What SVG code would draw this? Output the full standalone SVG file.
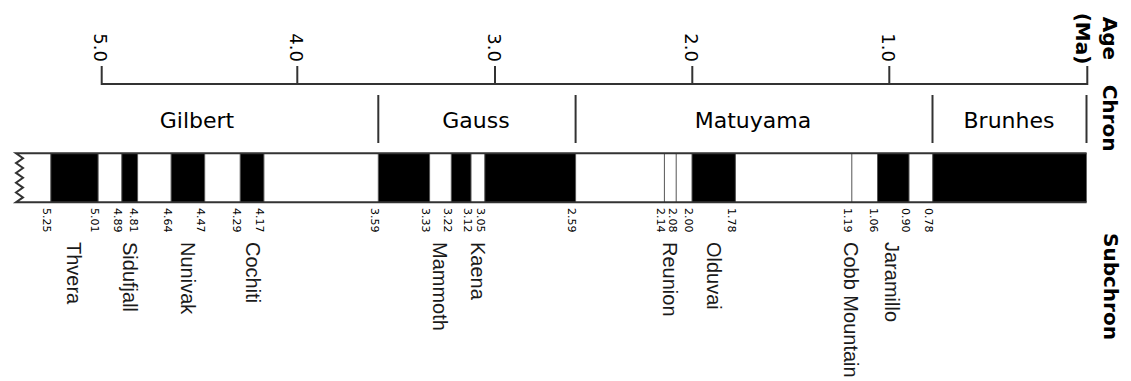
<svg xmlns="http://www.w3.org/2000/svg" width="1131" height="381" viewBox="0 0 1131 381">
<style>
  .ax { stroke:#333; stroke-width:2; fill:none; }
  .tick { font-family:"DejaVu Sans",sans-serif; font-size:18px; fill:#000; text-anchor:end; }
  .chron { font-family:"DejaVu Sans",sans-serif; font-size:22px; fill:#000; text-anchor:middle; }
  .side { font-family:"DejaVu Sans",sans-serif; font-size:20px; font-weight:bold; fill:#000; text-anchor:middle; }
  .sep { stroke:#333; stroke-width:2; }
  .blk { fill:#000; }
  .bnd { stroke:#555; stroke-width:1; }
  .edge { stroke:#333; stroke-width:2; fill:none; stroke-linejoin:miter; }
  .num { font-family:"DejaVu Sans",sans-serif; font-size:11px; fill:#000; }
  .sub { font-family:"Liberation Sans",Arial,sans-serif; font-size:20px; fill:#1a1a1a; }
</style>

<g id="age-axis">
  <path class="ax" d="M101.7,66 V84 H1087.3 V66 M297.3,66 V84 M495,66 V84 M692.3,66 V84 M889.3,66 V84"/>
  <text class="tick" transform="translate(94.2,62) rotate(90)">5.0</text>
  <text class="tick" transform="translate(289.8,62) rotate(90)">4.0</text>
  <text class="tick" transform="translate(487.5,62) rotate(90)">3.0</text>
  <text class="tick" transform="translate(684.8,62) rotate(90)">2.0</text>
  <text class="tick" transform="translate(881.8,62) rotate(90)">1.0</text>
</g>

<g id="side-labels">
  <text class="side" transform="translate(1102.5,38.5) rotate(90)">Age</text>
  <text class="side" transform="translate(1076,38.5) rotate(90)">(Ma)</text>
  <text class="side" transform="translate(1102.5,118) rotate(90)">Chron</text>
  <text class="side" transform="translate(1104,286.5) rotate(90)">Subchron</text>
</g>

<g id="chrons">
  <line class="sep" x1="378.3" y1="95" x2="378.3" y2="143"/>
  <line class="sep" x1="575.6" y1="95" x2="575.6" y2="143"/>
  <line class="sep" x1="932.5" y1="95" x2="932.5" y2="143"/>
  <line class="sep" x1="1086.5" y1="95" x2="1086.5" y2="143"/>
  <text class="chron" x="197" y="128">Gilbert</text>
  <text class="chron" x="476" y="128">Gauss</text>
  <text class="chron" x="753" y="128">Matuyama</text>
  <text class="chron" x="1009" y="128">Brunhes</text>
</g>

<g id="polarity-bar">
  <rect x="16" y="153.3" width="1070.6" height="49" fill="#fff"/>
  <rect class="blk" x="50.8" y="153.3" width="47.3" height="49"/>
  <rect class="blk" x="121.8" y="153.3" width="15.8" height="49"/>
  <rect class="blk" x="171.1" y="153.3" width="33.6" height="49"/>
  <rect class="blk" x="240.2" y="153.3" width="23.7" height="49"/>
  <rect class="blk" x="378.3" y="153.3" width="51.3" height="49"/>
  <rect class="blk" x="451.3" y="153.3" width="19.7" height="49"/>
  <rect class="blk" x="484.8" y="153.3" width="90.8" height="49"/>
  <rect class="blk" x="692.0" y="153.3" width="43.4" height="49"/>
  <rect class="blk" x="877.5" y="153.3" width="31.5" height="49"/>
  <rect class="blk" x="932.7" y="153.3" width="153.9" height="49"/>
  <path class="bnd" d="M50.8,153.3V202.3 M98.1,153.3V202.3 M121.8,153.3V202.3 M137.6,153.3V202.3 M171.1,153.3V202.3 M204.7,153.3V202.3 M240.2,153.3V202.3 M263.9,153.3V202.3 M378.3,153.3V202.3 M429.6,153.3V202.3 M451.3,153.3V202.3 M471,153.3V202.3 M484.8,153.3V202.3 M575.6,153.3V202.3 M664.4,153.3V202.3 M676.2,153.3V202.3 M692,153.3V202.3 M735.4,153.3V202.3 M851.8,153.3V202.3 M877.5,153.3V202.3 M909,153.3V202.3 M932.7,153.3V202.3"/>
  <path class="edge" d="M1086.6,153.3 H16 L23,158.2 L16,163.1 L23,168 L16,172.9 L23,177.8 L16,182.7 L23,187.6 L16,192.5 L23,197.4 L16,202.3 H1086.6"/>
</g>

<g id="boundary-ages">
  <text class="num" transform="translate(43.3,208) rotate(90)">5.25</text>
  <text class="num" transform="translate(90.6,208) rotate(90)">5.01</text>
  <text class="num" transform="translate(114.3,208) rotate(90)">4.89</text>
  <text class="num" transform="translate(130.1,208) rotate(90)">4.81</text>
  <text class="num" transform="translate(163.6,208) rotate(90)">4.64</text>
  <text class="num" transform="translate(197.2,208) rotate(90)">4.47</text>
  <text class="num" transform="translate(232.7,208) rotate(90)">4.29</text>
  <text class="num" transform="translate(256.4,208) rotate(90)">4.17</text>
  <text class="num" transform="translate(370.8,208) rotate(90)">3.59</text>
  <text class="num" transform="translate(422.1,208) rotate(90)">3.33</text>
  <text class="num" transform="translate(443.8,208) rotate(90)">3.22</text>
  <text class="num" transform="translate(463.5,208) rotate(90)">3.12</text>
  <text class="num" transform="translate(477.3,208) rotate(90)">3.05</text>
  <text class="num" transform="translate(568.1,208) rotate(90)">2.59</text>
  <text class="num" transform="translate(656.9,208) rotate(90)">2.14</text>
  <text class="num" transform="translate(668.7,208) rotate(90)">2.08</text>
  <text class="num" transform="translate(684.5,208) rotate(90)">2.00</text>
  <text class="num" transform="translate(727.9,208) rotate(90)">1.78</text>
  <text class="num" transform="translate(844.3,208) rotate(90)">1.19</text>
  <text class="num" transform="translate(870,208) rotate(90)">1.06</text>
  <text class="num" transform="translate(901.5,208) rotate(90)">0.90</text>
  <text class="num" transform="translate(925.2,208) rotate(90)">0.78</text>
</g>

<g id="subchrons">
  <text class="sub" transform="translate(67.3,242) rotate(90)">Thvera</text>
  <text class="sub" transform="translate(123.3,242) rotate(90)">Sidufjall</text>
  <text class="sub" transform="translate(181.3,242) rotate(90)">Nunivak</text>
  <text class="sub" transform="translate(245.8,242) rotate(90)">Cochiti</text>
  <text class="sub" transform="translate(433.3,242) rotate(90)">Mammoth</text>
  <text class="sub" transform="translate(470.8,242) rotate(90)">Kaena</text>
  <text class="sub" transform="translate(662.8,242) rotate(90)">Reunion</text>
  <text class="sub" transform="translate(706.6,242) rotate(90)">Olduvai</text>
  <text class="sub" transform="translate(844.4,242) rotate(90)">Cobb Mountain</text>
  <text class="sub" transform="translate(884.8,242) rotate(90)">Jaramillo</text>
</g>
</svg>
